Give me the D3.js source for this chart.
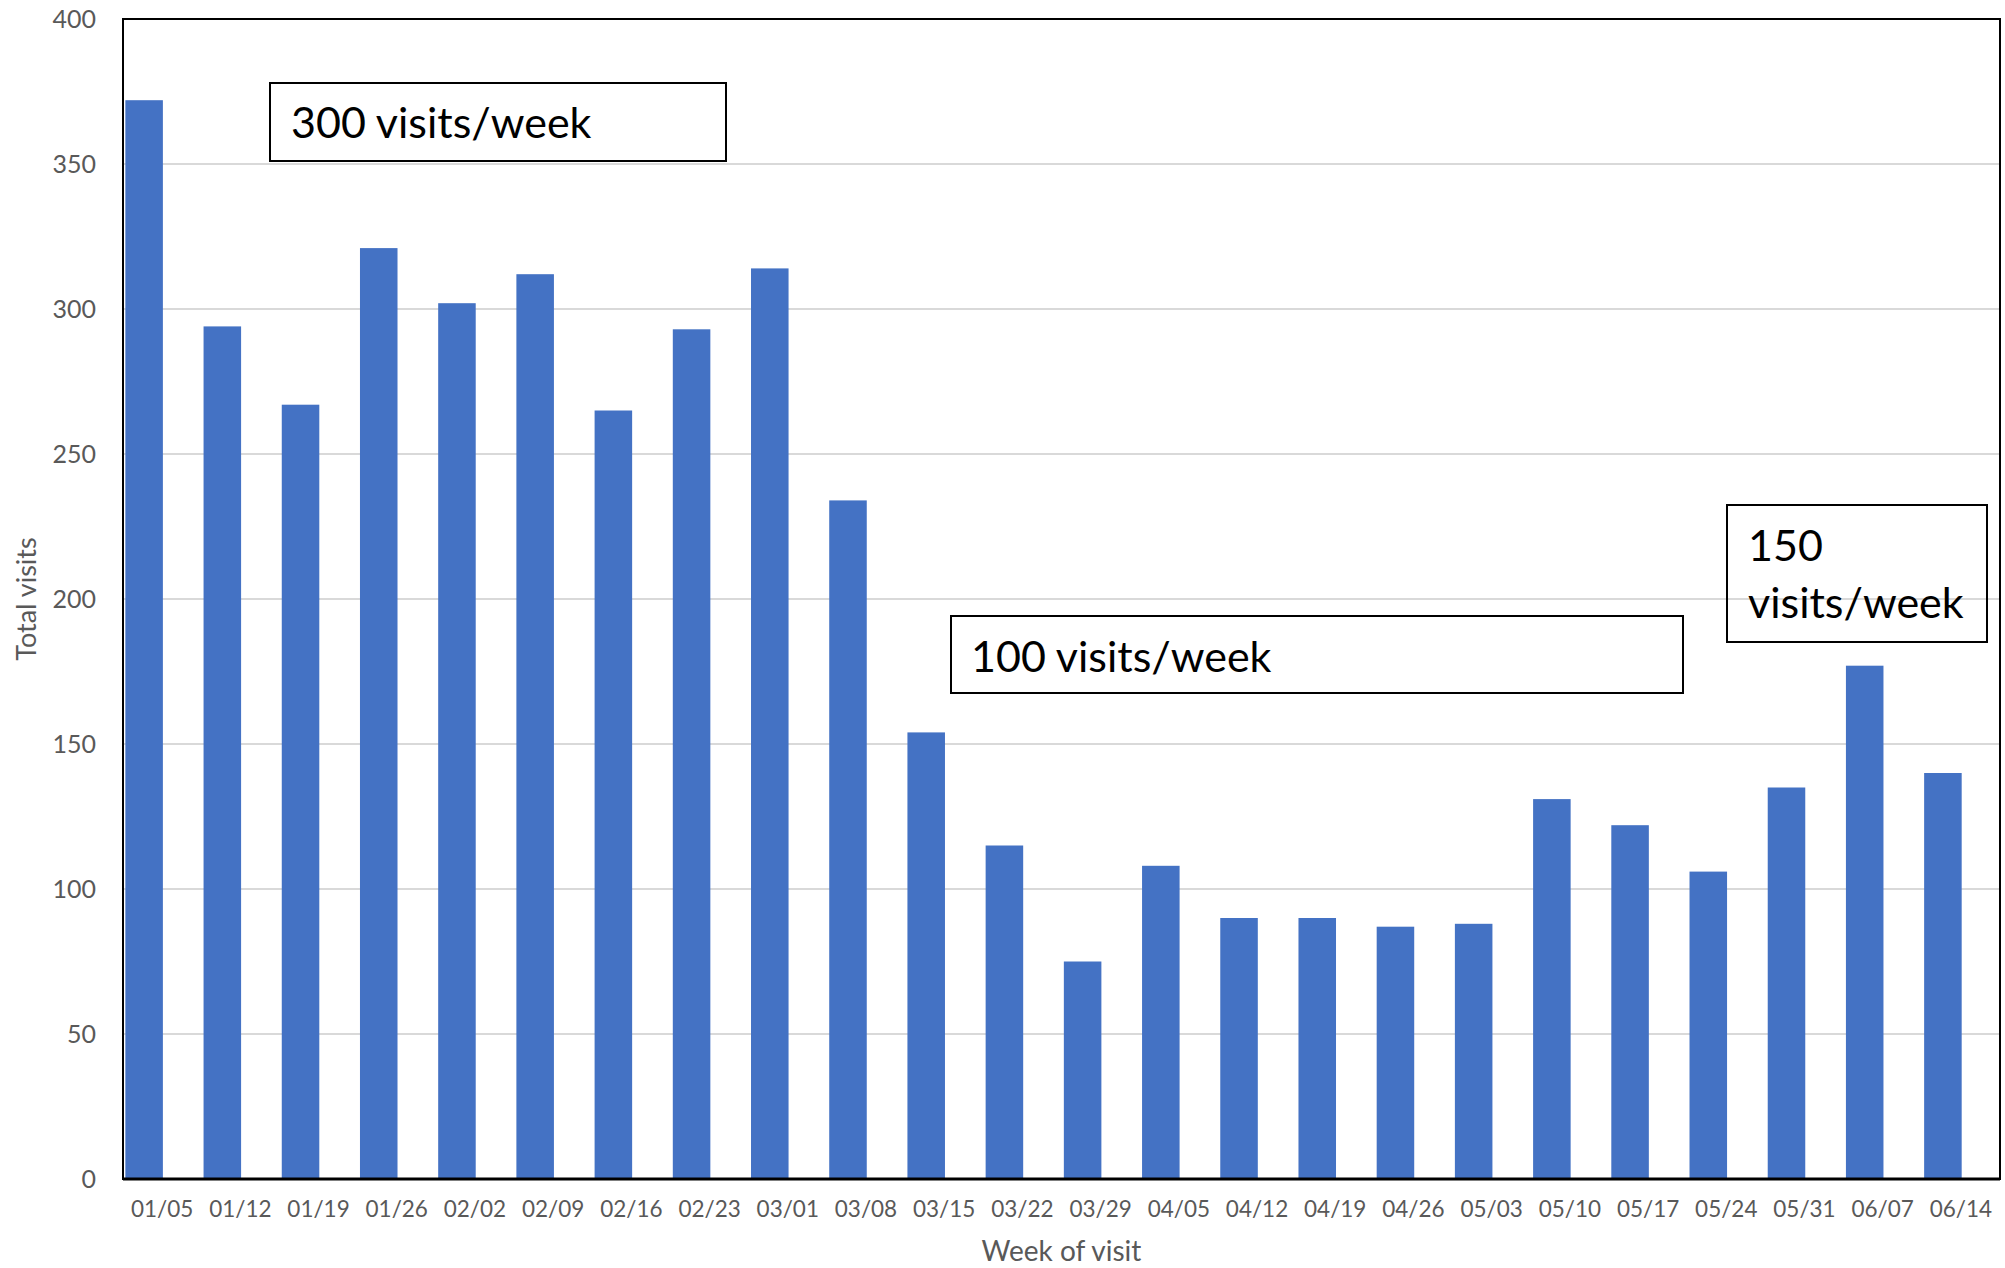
<!DOCTYPE html>
<html>
<head>
<meta charset="utf-8">
<script src="https://cdn.jsdelivr.net/npm/d3@7"></script>
<style>
  html, body { margin: 0; padding: 0; background: #fff; }
  svg { display: block; }
</style>
</head>
<body>
<svg id="chart" width="2005" height="1268"></svg>
<script>
// Weekly visit totals, January through mid-June
const weeks = ["01/05","01/12","01/19","01/26","02/02","02/09","02/16","02/23","03/01","03/08",
               "03/15","03/22","03/29","04/05","04/12","04/19","04/26","05/03","05/10","05/17",
               "05/24","05/31","06/07","06/14"];
const visits = [372, 294, 267, 321, 302, 312, 265, 293, 314, 234,
                154, 115, 75, 108, 90, 90, 87, 88, 131, 122,
                106, 135, 177, 140];
const yTicks = [0, 50, 100, 150, 200, 250, 300, 350, 400];
const xTitle = "Week of visit";
const yTitle = "Total visits";
// Callout texts (each entry is a list of lines)
const callouts = [["300 visits/week"], ["100 visits/week"], ["150", "visits/week"]];

const svg = d3.select("#chart");
const plot = { left: 123, right: 2000, top: 19, bottom: 1179 };

const x = d3.scaleBand().domain(weeks).range([plot.left, plot.right]).padding(0);
const y = d3.scaleLinear().domain([0, 400]).range([plot.bottom, plot.top]);

// Horizontal gridlines
svg.append("g").selectAll("line")
  .data(yTicks.filter(t => t > 0 && t < 400))
  .join("line")
  .attr("x1", plot.left).attr("x2", plot.right)
  .attr("y1", d => y(d)).attr("y2", d => y(d))
  .attr("stroke", "#d9d9d9").attr("stroke-width", 2);

// Bars sit in the left half of each week's slot
const barOffset = x.bandwidth() * 0.03;
const barWidth = x.bandwidth() * 0.48;
svg.append("g").selectAll("rect")
  .data(weeks.map((w, i) => ({ week: w, value: visits[i] })))
  .join("rect")
  .attr("x", d => x(d.week) + barOffset)
  .attr("width", barWidth)
  .attr("y", d => y(d.value))
  .attr("height", d => y(0) - y(d.value))
  .attr("fill", "#4472c4");

// Plot frame
svg.append("rect")
  .attr("x", plot.left).attr("y", plot.top)
  .attr("width", plot.right - plot.left).attr("height", plot.bottom - plot.top)
  .attr("fill", "none").attr("stroke", "#000").attr("stroke-width", 2);
svg.append("line")
  .attr("x1", plot.left).attr("x2", plot.right)
  .attr("y1", y(0)).attr("y2", y(0))
  .attr("stroke", "#000").attr("stroke-width", 3);

// Y axis labels
const yAxis = d3.axisLeft(y).tickValues(yTicks).tickSize(0).tickPadding(27);
const gy = svg.append("g").attr("transform", `translate(${plot.left},0)`).call(yAxis);
gy.select(".domain").remove();
gy.selectAll("text")
  .attr("font-family", "Lato, 'Open Sans', sans-serif")
  .attr("font-size", 25).attr("fill", "#595959");

// X axis labels
const xAxis = d3.axisBottom(x).tickSize(0).tickPadding(22);
const gx = svg.append("g").attr("transform", `translate(0,${plot.bottom})`).call(xAxis);
gx.select(".domain").remove();
gx.selectAll("text")
  .attr("font-family", "Lato, 'Open Sans', sans-serif")
  .attr("font-size", 22.5).attr("fill", "#595959");

// Axis titles
svg.append("text")
  .attr("x", (plot.left + plot.right) / 2).attr("y", 1261)
  .attr("text-anchor", "middle")
  .attr("font-family", "Lato, 'Open Sans', sans-serif")
  .attr("font-size", 28).attr("fill", "#595959")
  .text(xTitle);
svg.append("text")
  .attr("transform", `translate(36,${(plot.top + plot.bottom) / 2}) rotate(-90)`)
  .attr("text-anchor", "middle")
  .attr("font-family", "Lato, 'Open Sans', sans-serif")
  .attr("font-size", 27).attr("fill", "#595959")
  .text(yTitle);

// Callout boxes
const boxes = [
  { x: 270, y: 83, w: 456, h: 78, tx: 291, ty: 138 },
  { x: 951, y: 616, w: 732, h: 77, tx: 971, ty: 672 },
  { x: 1727, y: 505, w: 260, h: 137, tx: 1748, ty: 561 }
];
const gb = svg.append("g");
boxes.forEach((b, i) => {
  gb.append("rect")
    .attr("x", b.x).attr("y", b.y).attr("width", b.w).attr("height", b.h)
    .attr("fill", "none").attr("stroke", "#000").attr("stroke-width", 2);
  const t = gb.append("text")
    .attr("font-family", "Lato, 'Open Sans', sans-serif")
    .attr("font-size", 43).attr("fill", "#000");
  callouts[i].forEach((line, k) => {
    t.append("tspan").attr("x", b.tx).attr("y", b.ty + k * 57).text(line);
  });
});
</script>
</body>
</html>
